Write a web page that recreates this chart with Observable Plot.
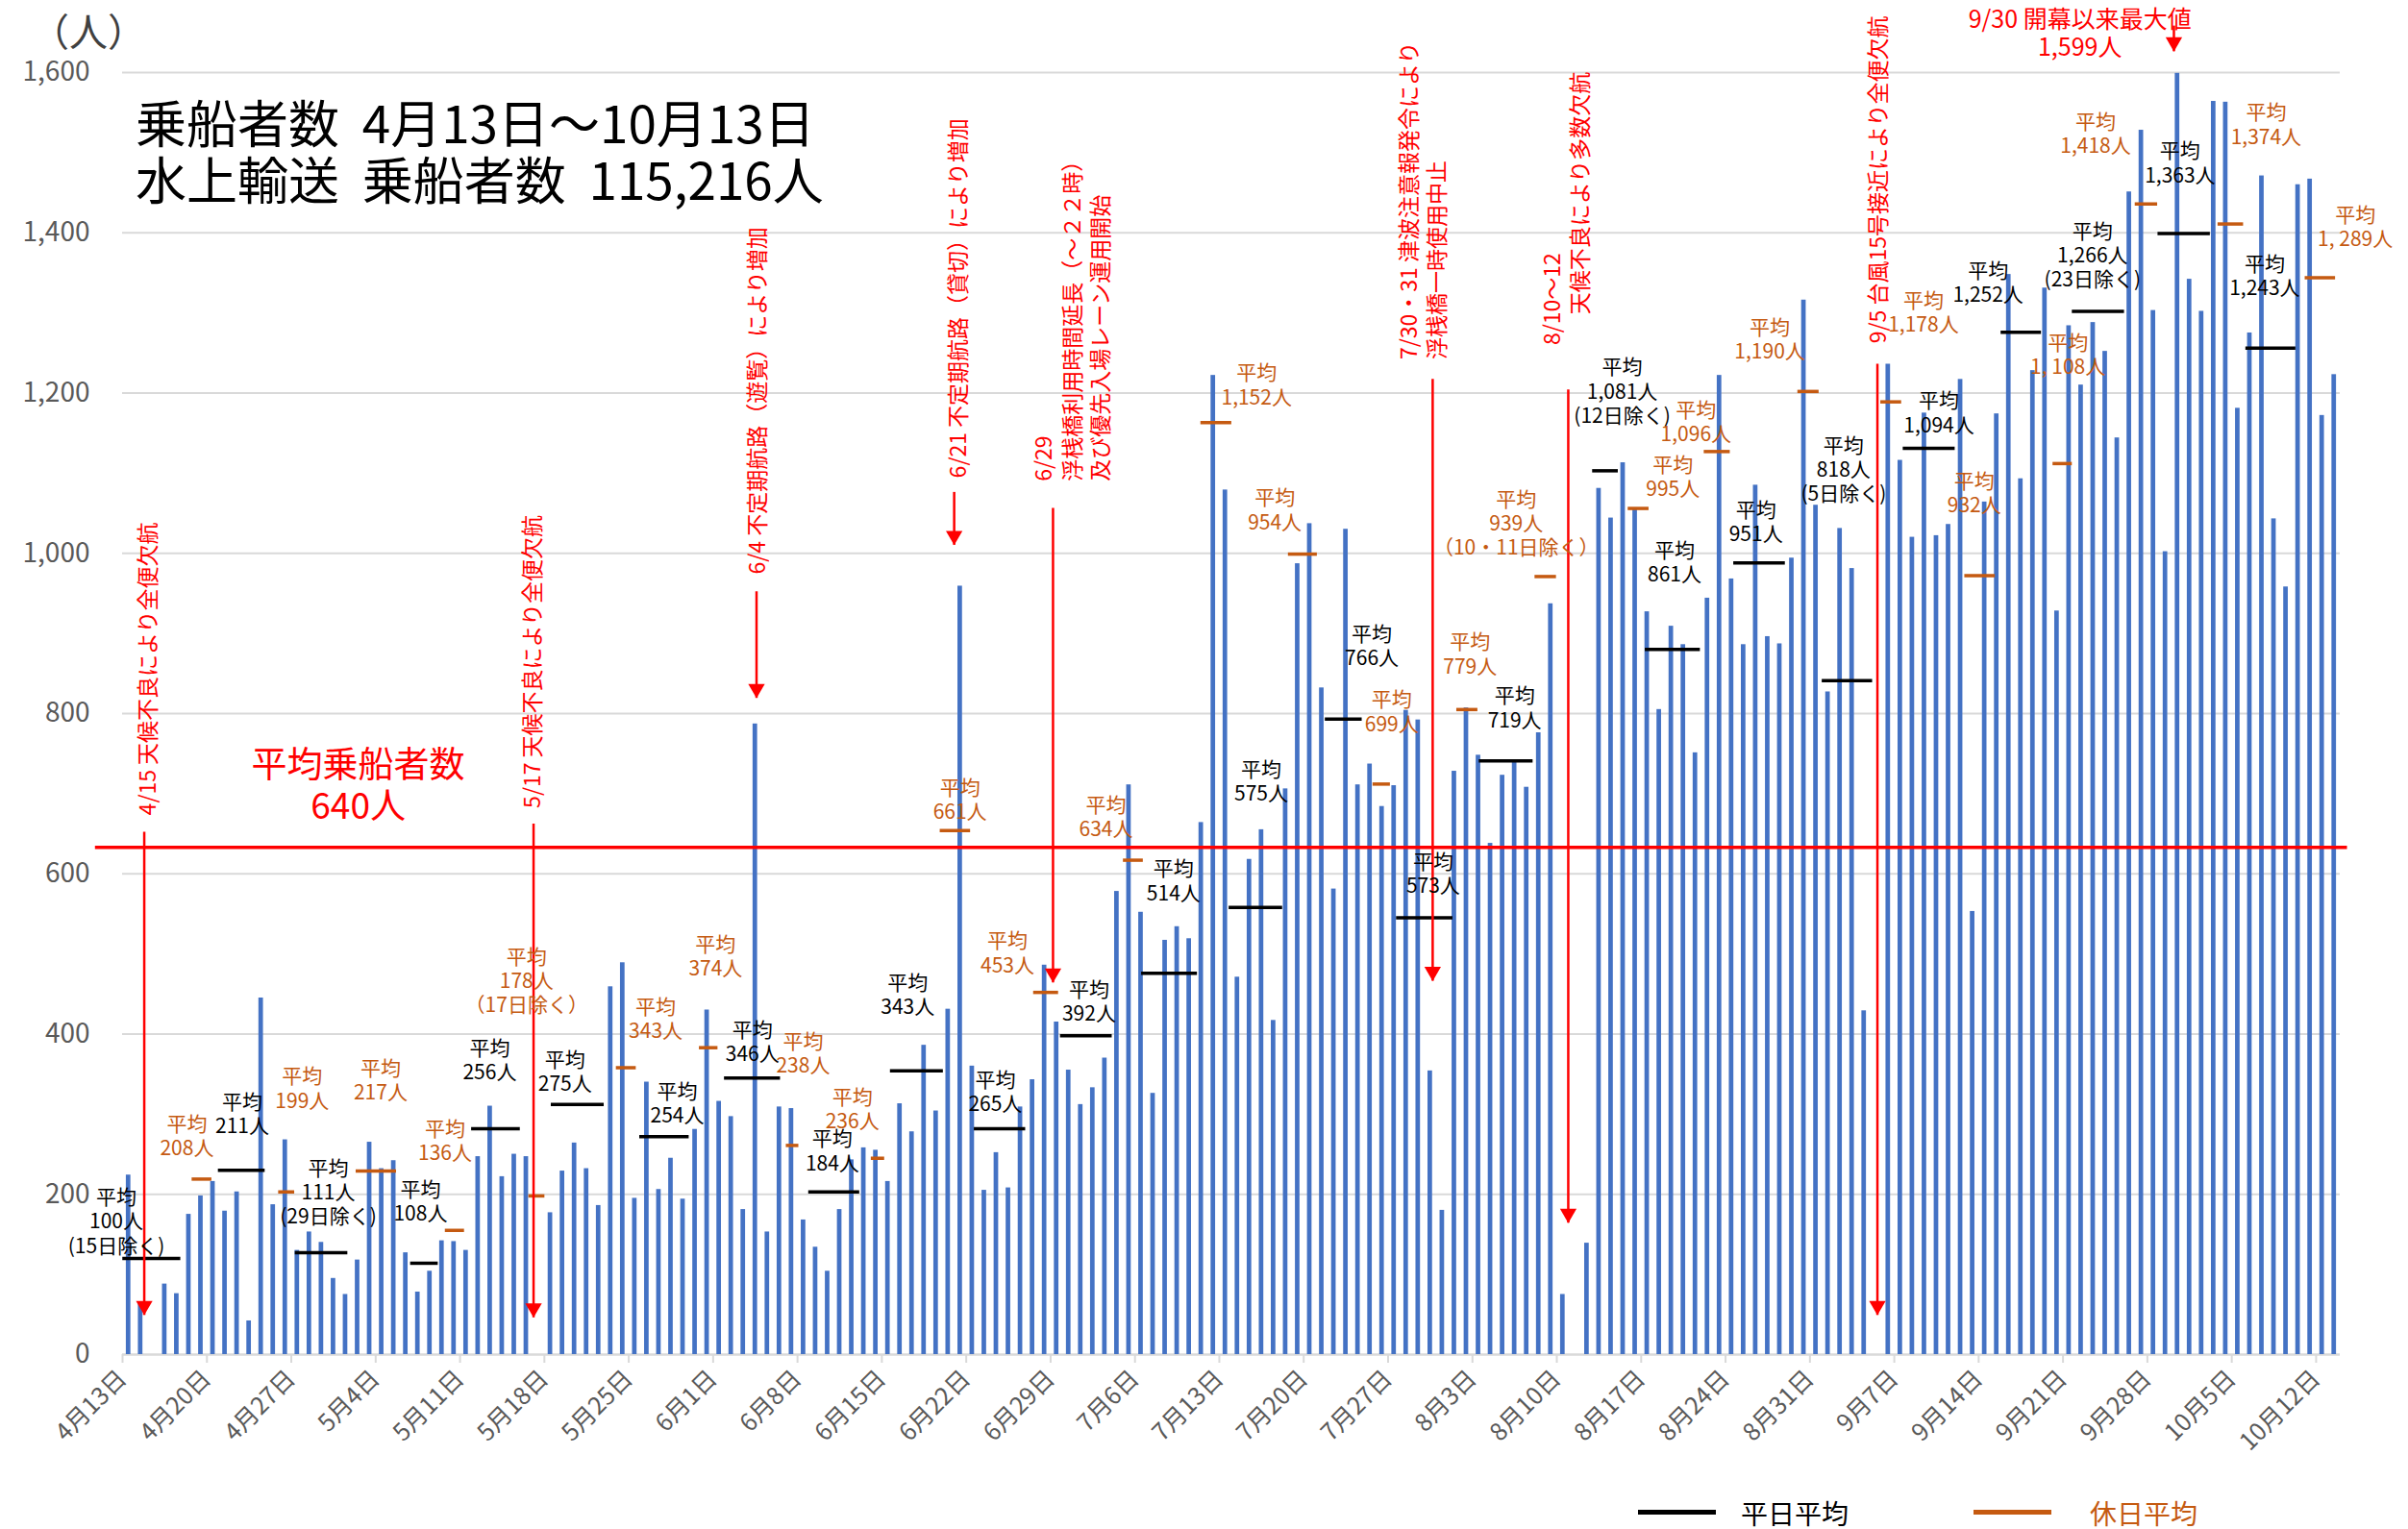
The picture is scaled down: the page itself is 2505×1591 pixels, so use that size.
<!DOCTYPE html>
<html lang="ja">
<head>
<meta charset="utf-8">
<script src="https://cdn.jsdelivr.net/npm/d3@7"></script>
<script src="https://cdn.jsdelivr.net/npm/@observablehq/plot@0.6"></script>
<style>
  html, body { margin: 0; padding: 0; background: #fff; }
  #wrap { position: relative; width: 2505px; height: 1591px; font-family: "Noto Sans CJK JP", "Noto Sans", sans-serif; }
  .ov { position: absolute; white-space: pre; line-height: 1; }
</style>
</head>
<body>
<div id="wrap"></div>
<script>
// ---------------- DATA ----------------
// daily passengers (null = all sailings cancelled)
const aprVals = [224, 65, null, 88, 76, 175, 198, 216, 179, 203, 42, 445, 187, 268, 130, 153, 140, 95]; // 4/13-4/30
const mayVals = [75, 118, 265, 232, 242, 127, 78, 104, 142, 141, 130, 247, 310, 222, 250, 247, null, 177, 229, 264, 232, 186, 459, 489, 195, 340, 206, 245, 194, 281, 430];
const junVals = [316, 297, 181, 787, 153, 309, 307, 168, 134, 104, 181, 243, 258, 255, 216, 313, 278, 386, 304, 431, 959, 360, 205, 252, 208, 309, 343, 486, 415, 355];
const julVals = [312, 333, 370, 578, 711, 552, 326, 517, 534, 519, 664, 1222, 1079, 471, 618, 655, 417, 706, 987, 1037, 832, 581, 1030, 711, 737, 684, 710, 804, 792, 354, 180];
const augVals = [728, 807, 748, 638, 723, 742, 708, 776, 937, 75, null, 139, 1081, 1044, 1113, 1056, 927, 805, 909, 886, 751, 944, 1222, 968, 886, 1085, 896, 887, 994, 1316, 1060];
const sepVals = [827, 1031, 981, 429, null, 1236, 1116, 1020, 1175, 1022, 1036, 1217, 553, 1064, 1174, 1348, 1093, 1228, 1331, 928, 1284, 1210, 1288, 1252, 1144, 1451, 1528, 1303, 1002, 1599];
const octVals = [1342, 1302, 1564, 1563, 1181, 1275, 1471, 1043, 958, 1460, 1467, 1172, 1223];

const overallAvgLine = 633;          // red average line as drawn
const yTicks = [0, 200, 400, 600, 800, 1000, 1200, 1400, 1600];

// weekday averages: [from day, to day] (days since 4/13), level as drawn, label
const wdFrom  = [0.02, 7.95, 14.33, 23.9, 28.96, 35.57, 42.91, 49.94, 56.93, 63.71, 70.67, 77.82, 84.55, 91.81, 99.79, 105.7, 112.56, 121.97, 126.34, 133.68, 141.02, 147.74, 155.86, 161.77, 168.88, 176.17];
const wdTo    = [4.83, 11.83, 18.69, 26.19, 33.0, 39.96, 47.01, 54.59, 61.16, 68.1, 74.93, 82.11, 89.18, 96.25, 102.85, 110.38, 117.03, 124.1, 130.91, 137.96, 145.2, 152.05, 159.21, 166.1, 173.22, 180.32];
const wdLevel = [120, 230, 127, 114, 282, 312, 272, 345, 203, 354, 282, 398, 476, 558, 793, 545, 741, 1103, 880, 988, 841, 1131, 1276, 1302, 1399, 1256];
const wdText  = ["100人\n(15日除く)", "211人", "111人\n(29日除く)", "108人", "256人", "275人", "254人", "346人", "184人", "343人", "265人", "392人", "514人", "575人", "766人", "573人", "719人", "1,081人\n(12日除く)", "861人", "951人", "818人\n(5日除く)", "1,094人", "1,252人", "1,266人\n(23日除く)", "1,363人", "1,243人"];

// holiday averages
const hdFrom  = [5.77, 12.95, 19.38, 26.78, 33.71, 40.97, 47.86, 55.07, 62.12, 67.84, 75.59, 83.04, 89.47, 96.73, 103.75, 110.7, 117.19, 124.92, 131.23, 139.0, 145.88, 152.85, 160.17, 166.99, 173.86, 181.09];
const hdTo    = [7.41, 14.28, 22.73, 28.37, 35.04, 42.62, 49.4, 56.11, 63.23, 70.36, 77.66, 84.69, 92.03, 99.13, 105.19, 112.45, 118.97, 126.65, 133.39, 140.76, 147.61, 155.38, 161.77, 168.85, 175.98, 183.61];
const hdLevel = [219, 203, 229, 155, 198, 358, 383, 261, 245, 654, 452, 617, 1163, 999, 712, 805, 971, 1056, 1127, 1202, 1189, 972, 1112, 1436, 1411, 1344];
const hdText  = ["208人", "199人", "217人", "136人", "178人\n（17日除く）", "343人", "374人", "238人", "236人", "661人", "453人", "634人", "1,152人", "954人", "699人", "779人", "939人\n（10・11日除く）", "995人", "1,096人", "1,190人", "1,178人", "932人", "1, 108人", "1,418人", "1,374人", "1, 289人"];

// label placement (day offset, value) for the average labels
const wdLabelAt = [[-0.52,167],[9.93,301],[17.07,203],[24.72,192],[30.46,368],[36.71,354],[46.02,314],[52.26,391],[58.89,255],[65.14,450],[72.41,329],[80.19,441],[87.2,592],[94.47,716],[103.65,885],[108.74,601],[115.5,808],[124.43,1203],[128.77,990],[135.52,1040],[142.79,1105],[150.7,1176],[154.78,1339],[163.45,1373],[170.71,1488],[177.73,1347]];
const hdLabelAt = [[5.34,274],[14.9,333],[21.41,343],[26.76,268],[33.52,467],[44.23,420],[49.2,498],[56.46,377],[60.55,307],[69.48,693],[73.42,502],[81.59,672],[94.09,1211],[95.6,1055],[105.3,803],[111.8,875],[115.63,1038],[128.63,1096],[130.55,1165],[136.67,1268],[149.42,1301],[153.63,1076],[161.4,1249],[163.7,1525],[177.85,1536],[185.25,1408]];

// event annotations (vertical text): text, day offset, value at text start
const annText = ["4/15 天候不良により全便欠航", "5/17 天候不良により全便欠航", "6/4 不定期航路（遊覧）により増加", "6/21 不定期航路（貸切）により増加", "6/29", "浮桟橋利用時間延長（～２２時）", "及び優先入場レーン運用開始", "7/30・31 津波注意報発令により", "浮桟橋一時使用中止", "8/10～12", "天候不良により多数欠航", "9/5 台風15号接近により全便欠航"];
const annAt   = [[2.2,673],[34.1,682],[52.7,974],[69.4,1094],[76.5,1090],[78.9,1090],[81.2,1090],[106.8,1242],[109.1,1242],[118.7,1260],[121.0,1298],[145.7,1262]];
// arrows: day offset, top value, tip value
const arrowAt = [[1.8,652,49],[34.1,662,46],[52.6,952,819],[69.0,1076,1010],[77.2,1056,464],[108.7,1217,466],[119.95,1204,164],[145.6,1236,49],[170.2,1658,1626]];

// ---------------- BUILD ----------------
const start = Date.UTC(2025, 3, 13);
const day = p => new Date(start + p * 864e5);
const allVals = [...aprVals, ...mayVals, ...junVals, ...julVals, ...augVals, ...sepVals, ...octVals];
const bars = allVals.map((v, i) => ({date: day(i), value: v})).filter(d => d.value != null);
const wdRows = wdLevel.map((y, i) => ({x1: day(wdFrom[i]), x2: day(wdTo[i]), y}));
const hdRows = hdLevel.map((y, i) => ({x1: day(hdFrom[i]), x2: day(hdTo[i]), y}));
const wdLabels = wdText.map((t, i) => ({x: day(wdLabelAt[i][0]), y: wdLabelAt[i][1], text: "平均\n" + t}));
const hdLabels = hdText.map((t, i) => ({x: day(hdLabelAt[i][0]), y: hdLabelAt[i][1], text: "平均\n" + t}));
const anns = annText.map((t, i) => ({x: day(annAt[i][0]), y: annAt[i][1], text: t}));
const arrows = arrowAt.map(([p, top, tip]) => ({x: day(p), top, tip}));
const xTicks = d3.range(0, 184, 7).map(day);
const fmtDate = d => `${d.getUTCMonth() + 1}月${d.getUTCDate()}日`;

const BLUE = "#4472C4", ORANGE = "#C55A11", RED = "#FF0000", GRID = "#D9D9D9", AXIS = "#595959";

const chart = Plot.plot({
  width: 2505,
  height: 1591,
  marginLeft: 127,
  marginRight: 71,
  marginTop: 75,
  marginBottom: 182,
  style: {fontFamily: "'Noto Sans CJK JP', 'Noto Sans', sans-serif", background: "#fff"},
  x: {type: "utc", domain: [day(0), day(184)]},
  y: {domain: [0, 1600]},
  marks: [
    Plot.gridY({ticks: yTicks.slice(1), stroke: GRID, strokeOpacity: 1, strokeWidth: 2}),
    Plot.axisY({ticks: yTicks, tickFormat: d3.format(","), tickSize: 0, tickPadding: 34, fontSize: 28, fill: AXIS, label: null}),
    Plot.axisX({ticks: xTicks, tickFormat: fmtDate, tickRotate: -45, tickSize: 9, tickPadding: 12, fontSize: 25, fill: AXIS, stroke: GRID, strokeWidth: 2, label: null}),
    Plot.ruleY([0], {stroke: GRID, strokeWidth: 2.5}),
    Plot.rectY(bars, {x: "date", y: "value", interval: "day", fill: BLUE, insetLeft: 3.9, insetRight: 3.9}),
    Plot.ruleY(wdRows, {x1: "x1", x2: "x2", y: "y", stroke: "#000", strokeWidth: 3.5}),
    Plot.ruleY(hdRows, {x1: "x1", x2: "x2", y: "y", stroke: ORANGE, strokeWidth: 3.5}),
    Plot.ruleY([{y: overallAvgLine, x1: day(-2.25), x2: day(184.6)}], {y: "y", x1: "x1", x2: "x2", stroke: RED, strokeWidth: 3.5}),
    Plot.ruleX(arrows, {x: "x", y1: "top", y2: "tip", stroke: RED, strokeWidth: 2.5}),
    Plot.dot(arrows, {x: "x", y: "tip", symbol: "triangle", rotate: 180, r: 6.4, fill: RED, stroke: "none", dy: -10}),
    Plot.text(wdLabels, {x: "x", y: "y", text: "text", fill: "#000", fontSize: 21, lineHeight: 1.2, textAnchor: "middle"}),
    Plot.text(hdLabels, {x: "x", y: "y", text: "text", fill: ORANGE, fontSize: 21, lineHeight: 1.2, textAnchor: "middle"}),
    Plot.text(anns, {x: "x", y: "y", text: "text", rotate: -90, textAnchor: "start", fill: RED, fontSize: 23}),
    Plot.text([{x: day(19.55), y: 711, text: "平均乗船者数\n640人"}], {x: "x", y: "y", text: "text", fill: RED, fontSize: 37, lineHeight: 1.16, textAnchor: "middle"}),
    Plot.text([{x: day(162.4), y: 1649, text: "9/30 開幕以来最大値\n1,599人"}], {x: "x", y: "y", text: "text", fill: RED, fontSize: 25, lineHeight: 1.15, textAnchor: "middle"})
  ]
});

const wrap = document.getElementById("wrap");
wrap.appendChild(chart);

function overlay(text, left, top, size, color) {
  const d = document.createElement("div");
  d.className = "ov";
  d.textContent = text;
  d.style.left = left + "px";
  d.style.top = top + "px";
  d.style.fontSize = size + "px";
  d.style.color = color;
  wrap.appendChild(d);
  return d;
}
function swatch(left, top, w, h, color) {
  const d = document.createElement("div");
  d.style.cssText = `position:absolute;left:${left}px;top:${top}px;width:${w}px;height:${h}px;background:${color}`;
  wrap.appendChild(d);
}
overlay("（人）", 32, 11, 40, "#404040");
overlay("乗船者数  4月13日～10月13日", 141, 100, 53, "#000");
overlay("水上輸送  乗船者数  115,216人", 141, 159, 53, "#000");
swatch(1704, 1571, 81, 5, "#000");
overlay("平日平均", 1811, 1560, 28, "#000");
swatch(2053, 1571, 81, 5, ORANGE);
overlay("休日平均", 2174, 1560, 28, ORANGE);
</script>
</body>
</html>
